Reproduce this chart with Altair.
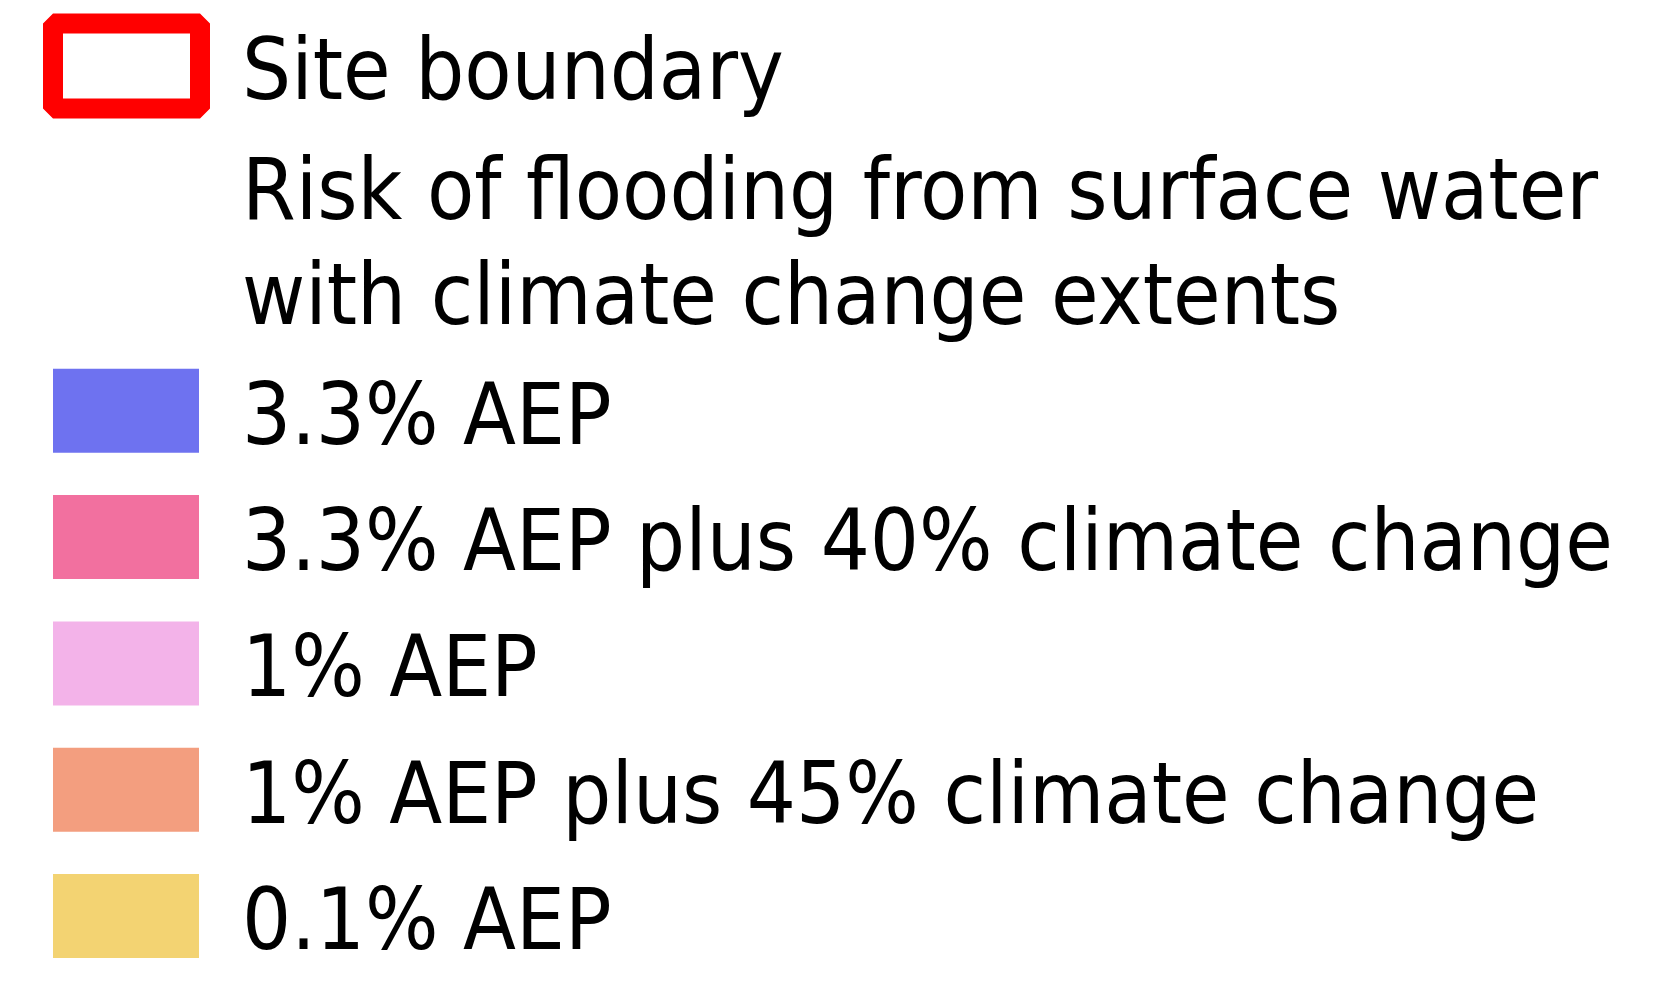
import altair as alt
import pandas as pd

# ---- legend content ----
site_label = ["Site boundary"]
boundary_color = "#ff0000"
title_lines = ["Risk of flooding from surface water", "with climate change extents"]
categories = [
    "3.3% AEP",
    "3.3% AEP plus 40% climate change",
    "1% AEP",
    "1% AEP plus 45% climate change",
    "0.1% AEP",
]
colors = ["#6e72f0", "#f2709f", "#f3b3e9", "#f39e7f", "#f3d372"]

# legend line slots (in units of one legend row)
site_slot = [0.0]
title_slots = [0.95, 1.78]
cat_slots = [2.73, 3.73, 4.73, 5.73, 6.73]

site_df = pd.DataFrame({"label": site_label, "slot": site_slot})
title_df = pd.DataFrame({"label": title_lines, "slot": title_slots})
cat_df = pd.DataFrame({"label": categories, "slot": cat_slots, "color": colors})
text_df = pd.concat([site_df, title_df, cat_df[["label", "slot"]]], ignore_index=True)

W, H = 1639, 976
yscale = alt.Scale(domain=[-0.459, 7.268], reverse=True, zero=False, nice=False)
Y = alt.Y("slot:Q", scale=yscale, axis=None)

FONT = "DejaVu Sans Condensed"
FS = 86

swatch_path = "M-1,-0.5753H1V0.5753H-1Z"
boundary_path = "M-1,-0.578H1V0.578H-1Z"

boundary = alt.Chart(site_df).mark_point(
    shape=boundary_path, filled=False, size=21609, strokeWidth=20,
    strokeJoin="bevel", color=boundary_color, opacity=1,
).encode(x=alt.value(118.5), y=Y)

swatches = alt.Chart(cat_df).mark_point(
    shape=swatch_path, filled=True, size=21316, strokeWidth=0, opacity=1,
).encode(
    x=alt.value(118),
    y=Y,
    fill=alt.Fill("color:N", scale=None),
)

labels = alt.Chart(text_df).mark_text(
    align="left", baseline="alphabetic", dy=33, font=FONT, fontSize=FS, color="#000000",
).encode(x=alt.value(234), y=Y, text="label:N")

chart = (
    alt.layer(boundary, swatches, labels)
    .properties(width=W, height=H, padding=0, background="white",
                autosize=alt.AutoSizeParams(type="fit", contains="padding"))
    .configure_view(stroke=None)
)

chart.save("out.html", embed_options={"renderer": "svg", "actions": False})
